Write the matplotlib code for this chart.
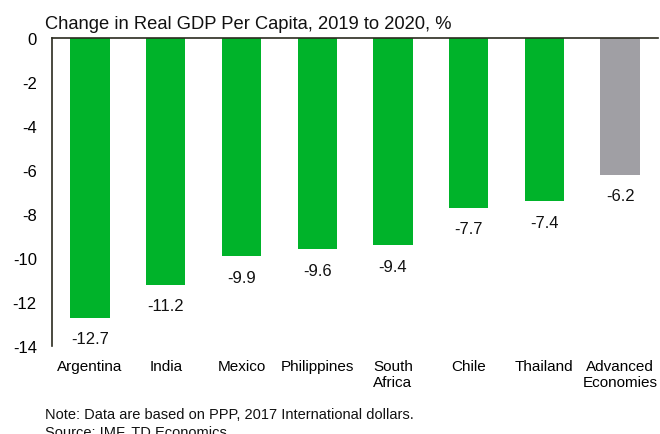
import matplotlib
matplotlib.use('Agg')
import matplotlib.pyplot as plt

plt.rcParams['font.family'] = ['Liberation Sans', 'DejaVu Sans']

# 2019→2020 change in real GDP per capita, %
countries = ['Argentina', 'India', 'Mexico', 'Philippines', 'South\nAfrica',
             'Chile', 'Thailand', 'Advanced\nEconomies']
changes = [-12.7, -11.2, -9.9, -9.6, -9.4, -7.7, -7.4, -6.2]
bar_colors = ['#00B32A'] * 7 + ['#A09FA4']

fig = plt.figure(figsize=(6.6, 4.35), dpi=100)
ax = fig.add_axes([0.079, 0.202, 0.918, 0.708])

x = list(range(len(countries)))
ax.bar(x, changes, width=0.52, color=bar_colors, edgecolor='none')

# value labels under each bar
for xi, v in zip(x, changes):
    ax.annotate(f'{v:.1f}', xy=(xi, v), xytext=(0, -10), textcoords='offset points',
                ha='center', va='top', fontsize=12, color='#111111')

ax.set_xlim(-0.5, len(countries) - 0.5)
ax.set_ylim(-14, 0)
ax.set_yticks(range(-14, 1, 2))
ax.set_yticklabels([str(t) for t in range(-14, 1, 2)], fontsize=12)
ax.set_xticks(x)
ax.set_xticklabels(countries, fontsize=11, va='top')
ax.tick_params(axis='x', length=0, pad=9)
ax.tick_params(axis='y', length=0, pad=11)

for side in ['right', 'bottom']:
    ax.spines[side].set_visible(False)
for side in ['top', 'left']:
    ax.spines[side].set_color('#2b2b1f')
    ax.spines[side].set_linewidth(1.2)

fig.text(0.068, 0.923, 'Change in Real GDP Per Capita, 2019 to 2020, %',
         fontsize=13.2, color='#111111', ha='left', va='bottom')
fig.text(0.068, 0.046, 'Note: Data are based on PPP, 2017 International dollars.',
         fontsize=10.5, color='#111111', ha='left', va='center')
fig.text(0.068, 0.005, 'Source: IMF, TD Economics.',
         fontsize=10.5, color='#111111', ha='left', va='center')

plt.savefig('out.png', dpi=100)
plt.close()
